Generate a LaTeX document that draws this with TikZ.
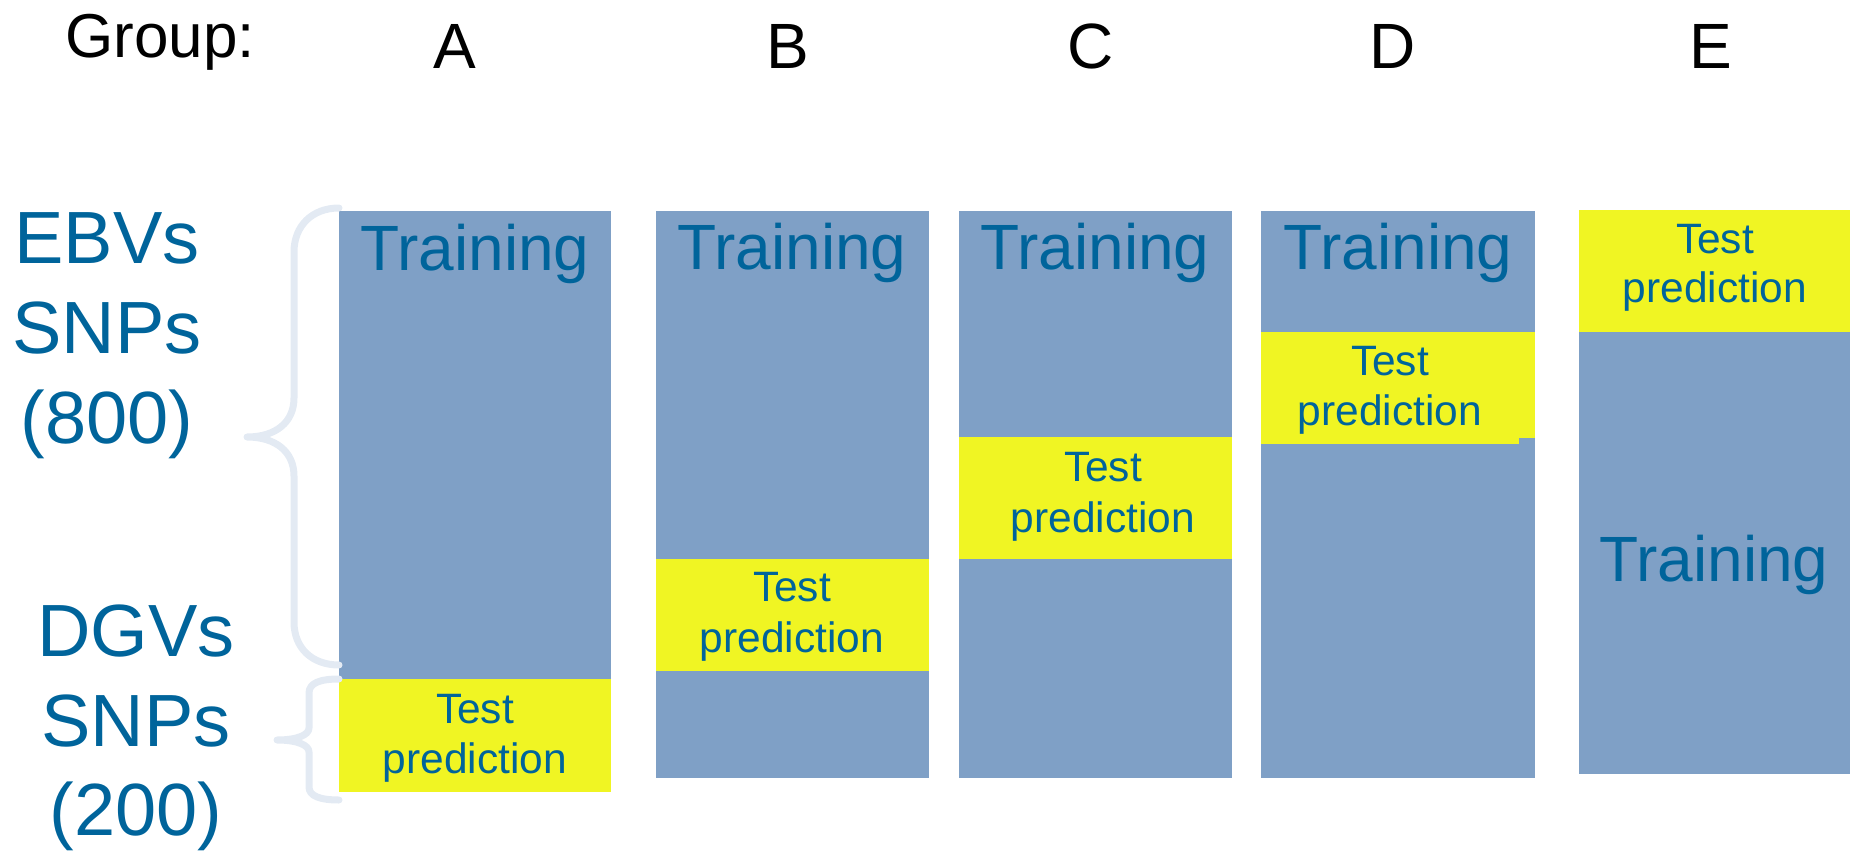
\documentclass[tikz,border=0pt]{standalone}
\usepackage{fontspec}
\setmainfont{Liberation Sans}
\definecolor{trainblue}{RGB}{127,160,198}
\definecolor{testyellow}{RGB}{240,245,35}
\definecolor{labelblue}{RGB}{0,100,155}
\definecolor{bracegray}{RGB}{227,234,243}
\begin{document}
\begin{tikzpicture}[x=1pt,y=-1pt,
  train/.style={fill=trainblue},
  testfill/.style={fill=testyellow},
  head/.style={anchor=base,inner sep=0pt,font=\fontsize{64}{77}\selectfont,text=black},
  side/.style={anchor=base,inner sep=0pt,font=\fontsize{74}{88}\selectfont,text=labelblue},
  trainlbl/.style={anchor=base,inner sep=0pt,font=\fontsize{64}{76}\selectfont,text=labelblue},
  testlbl/.style={anchor=base,inner sep=0pt,font=\fontsize{42.5}{50}\selectfont,text=labelblue},
  bracestyle/.style={draw=bracegray,line width=7pt,line cap=round,line join=round}]
\useasboundingbox (0,0) rectangle (1850,851);

% header
\node[head,anchor=base west,font=\fontsize{62}{74}\selectfont] (group) at (65,58) {Group:};
\node[head] (gA) at (455,69) {A};
\node[head] (gB) at (788,69) {B};
\node[head] (gC) at (1091,69) {C};
\node[head] (gD) at (1393,69) {D};
\node[head] (gE) at (1711,69) {E};

% column A
\fill[train] (339,211) rectangle (611,679);
\fill[testfill] (339,679) rectangle (611,792);
% column B
\fill[train] (656,211) rectangle (929,778);
\fill[testfill] (656,559) rectangle (929,671);
% column C
\fill[train] (959,211) rectangle (1232,778);
\fill[testfill] (959,437) rectangle (1232,559);
% column D
\fill[train] (1261,211) rectangle (1535,778);
\fill[testfill] (1261,332) rectangle (1535,438);
\fill[testfill] (1261,437) rectangle (1519,444);
% column E
\fill[testfill] (1579,210) rectangle (1850,332);
\fill[train] (1579,332) rectangle (1850,774);

% training labels
\node[trainlbl] (trA) at (475,270) {Training};
\node[trainlbl] (trB) at (792,269) {Training};
\node[trainlbl] (trC) at (1095,269) {Training};
\node[trainlbl] (trD) at (1398,269) {Training};
\node[trainlbl] (trE) at (1714,581) {Training};

% test prediction labels
\node[testlbl] (teA1) at (475,723) {Test};
\node[testlbl] (teA2) at (475,773) {prediction};
\node[testlbl] (teB1) at (792,601) {Test};
\node[testlbl] (teB2) at (792,652) {prediction};
\node[testlbl] (teC1) at (1103,481) {Test};
\node[testlbl] (teC2) at (1103,532) {prediction};
\node[testlbl] (teD1) at (1390,375) {Test};
\node[testlbl] (teD2) at (1390,425) {prediction};
\node[testlbl] (teE1) at (1715,253) {Test};
\node[testlbl] (teE2) at (1715,302) {prediction};

% side labels
\node[side] (ebv1) at (107,263) {EBVs};
\node[side] (ebv2) at (107,353) {SNPs};
\node[side] (ebv3) at (107,443) {(800)};
\node[side] (dgv1) at (136,656) {DGVs};
\node[side] (dgv2) at (136,746) {SNPs};
\node[side] (dgv3) at (136,835) {(200)};

% braces
\coordinate (b1top) at (339,208);
\coordinate (b1tip) at (247,437);
\coordinate (b1bot) at (339,665);
\draw[bracestyle] (b1top) .. controls (312,208) and (294,226) .. (294,252)
  -- (294,398) .. controls (294,422) and (276,437) .. (b1tip)
  .. controls (276,437) and (294,452) .. (294,476)
  -- (294,622) .. controls (294,648) and (312,665) .. (b1bot);
\coordinate (b2top) at (339,679);
\coordinate (b2tip) at (277,740);
\coordinate (b2bot) at (339,800);
\draw[bracestyle] (b2top) .. controls (320,679) and (309,683) .. (309,693)
  -- (309,728) .. controls (309,735) and (297,740) .. (b2tip)
  .. controls (297,740) and (309,745) .. (309,752)
  -- (309,787) .. controls (309,796) and (320,800) .. (b2bot);
\end{tikzpicture}
\end{document}
